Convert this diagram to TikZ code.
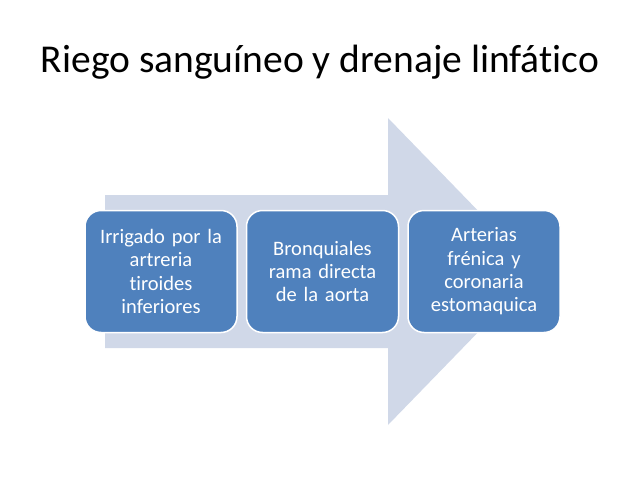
\documentclass[tikz,border=0pt]{standalone}
\usepackage{fontspec}
\setmainfont{Carlito}[Ligatures=NoCommon]
\usetikzlibrary{positioning}
\definecolor{boxblue}{RGB}{79,129,189}
\definecolor{arrowgray}{RGB}{208,216,232}

\begin{document}
\begin{tikzpicture}[x=1pt,y=-1pt,
    stepbox/.style={draw=white, line width=1.5pt, fill=boxblue, text=white,
      rounded corners=16pt, minimum width=152pt, minimum height=122pt,
      text width=144pt, align=center, inner sep=0pt,
      font=\fontsize{20.5}{23.3}\selectfont}]
  \useasboundingbox (0,0) rectangle (638,479);
  \node (title) at (320,62) {\fontsize{39.5}{46}\selectfont Riego sanguíneo y drenaje linfático};
  % big arrow behind the boxes
  \fill[arrowgray] (105,195) -- (388,195) -- (388,118) -- (537,271.5)
    -- (388,425) -- (388,348) -- (105,348) -- cycle;
  \node[stepbox] (box1) at (161,271.5) {Irrigado por la\\artreria\\tiroides\\inferiores};
  \node[stepbox, right=8pt of box1] (box2) {Bronquiales\\rama directa\\de la aorta};
  \node[stepbox, right=8pt of box2] (box3) {Arterias\\frénica y\\coronaria\\estomaquica};
\end{tikzpicture}
\end{document}
